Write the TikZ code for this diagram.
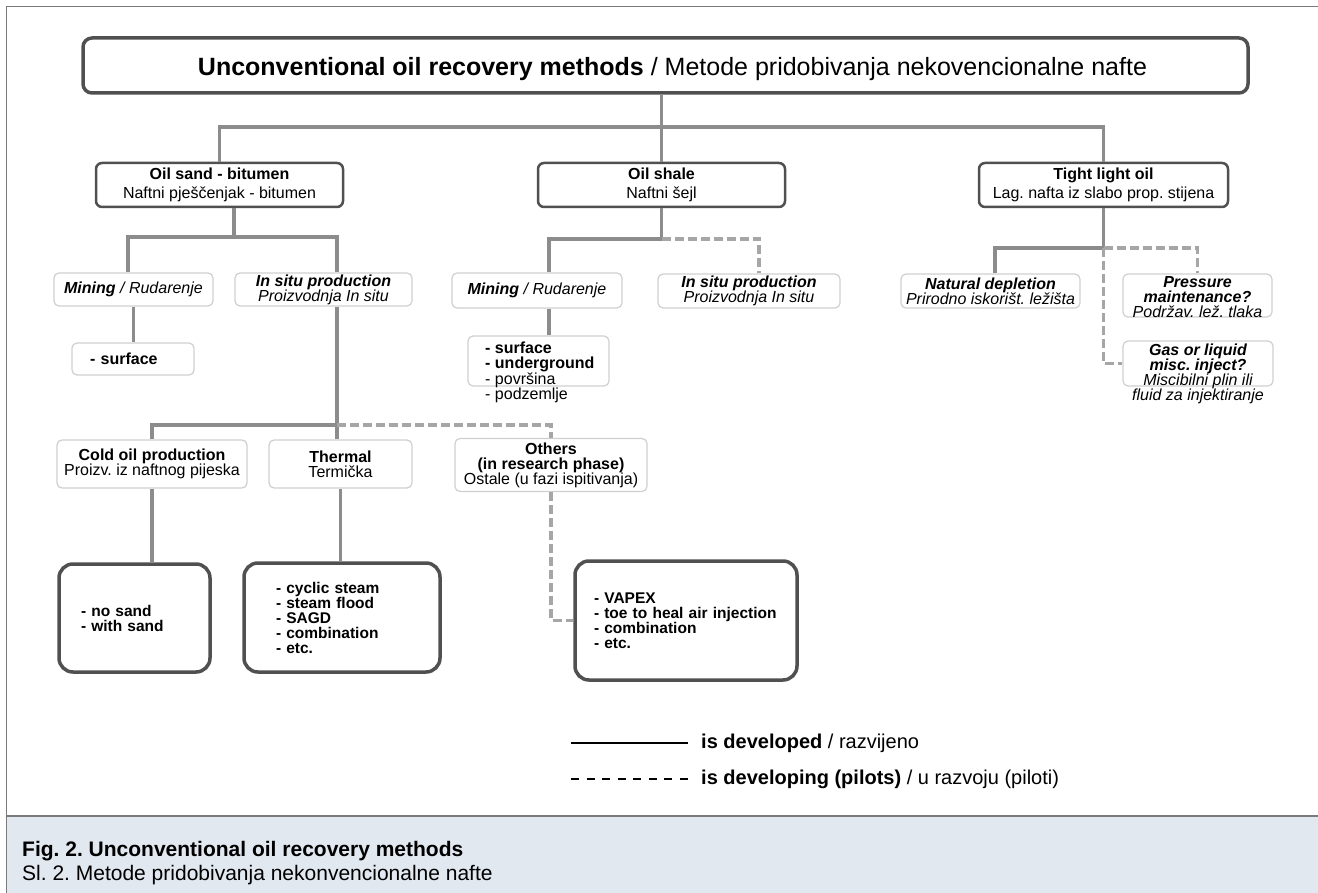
\documentclass[tikz,border=0pt]{standalone}
\usepackage{fontspec}
\setmainfont{Liberation Sans}
\frenchspacing
\usetikzlibrary{calc}
\definecolor{boxdark}{HTML}{505050}
\definecolor{boxlight}{HTML}{CFCFCF}
\definecolor{linegray}{HTML}{8C8C8C}
\definecolor{dashgray}{HTML}{A6A6A6}
\definecolor{capfill}{HTML}{E1E8F0}
\definecolor{framegray}{HTML}{7A7A7A}
\newcommand{\grpfont}{\fontsize{16}{19}\selectfont}
\newcommand{\subfont}{\fontsize{16}{15}\selectfont}
\newcommand{\lstfont}{\fontsize{15.5}{15}\selectfont}
\newcommand{\legfont}{\fontsize{20}{24}\selectfont}
\newcommand{\capfont}{\fontsize{21}{24}\selectfont}
\tikzset{
  mainbox/.style={draw=boxdark, line width=3.5pt, rounded corners=9pt, align=center, inner sep=0pt},
  groupbox/.style={draw=boxdark, line width=2.5pt, rounded corners=6pt, align=center, inner sep=0pt,
    minimum height=44pt, font=\grpfont},
  methodbox/.style={draw=boxlight, line width=1.2pt, rounded corners=5pt, align=center, inner sep=0pt,
    font=\subfont\itshape},
  listbox/.style={draw=boxdark, line width=3.5pt, rounded corners=14pt, align=left, inner ysep=0pt,
    font=\lstfont\bfseries},
  conn/.style={draw=linegray, line width=3.5pt},
  pilot/.style={draw=dashgray, line width=3.5pt, dash pattern=on 9pt off 4pt},
}

\begin{document}
\begin{tikzpicture}[x=1pt,y=-1pt]
	\useasboundingbox (0,0) rectangle (1318,893);
	% frame and caption band
	\fill[capfill] (6,816) rectangle (1318,893);
	\draw[framegray, line width=1pt] (6,893) -- (6,7) -- (1318,7);
	\draw[framegray, line width=2pt] (6,816) -- (1318,816);
	\node[anchor=base west, inner sep=0pt, font=\capfont\bfseries] (figen) at (22,856) {Fig. 2. Unconventional oil recovery methods};
	\node[anchor=base west, inner sep=0pt, font=\capfont] (fighr) at (22,880) {Sl. 2. Metode pridobivanja nekonvencionalne nafte};

	% top
	\node[mainbox, minimum width=1165pt, minimum height=55pt, text height=23pt, text depth=2pt,
		font=\fontsize{25}{28}\selectfont] (title) at (665.5,65.5)
		{\hspace*{14pt}\textbf{Unconventional oil recovery methods} / Metode pridobivanja nekovencionalne nafte};

	% resources
	\node[groupbox, minimum width=247pt] (sand) at (219.5,185) {\textbf{Oil sand - bitumen}\\Naftni pješčenjak - bitumen};
	\node[groupbox, minimum width=247pt] (shale) at (661.5,185) {\textbf{Oil shale}\\Naftni šejl};
	\node[groupbox, minimum width=249pt] (tight) at (1103.5,185) {\textbf{Tight light oil}\\Lag. nafta iz slabo prop. stijena};

	% oil sand
	\node[methodbox, minimum width=159pt, minimum height=33pt] (mineS) at (133.5,289.5) {\textbf{Mining} / Rudarenje};
	\node[methodbox, minimum width=177pt, minimum height=33pt] (insituS) at (323.5,289.5) {\textbf{In situ production}\\Proizvodnja In situ};
	\node[methodbox, minimum width=122pt, minimum height=32pt, text width=86pt, inner xsep=18pt, align=left, font=\subfont\bfseries] (surfS) at (133,359) {- surface};
	\node[methodbox, minimum width=190pt, minimum height=48pt, font=\subfont] (cold) at (152,464) {\textbf{Cold oil production}\\Proizv. iz naftnog pijeska};
	\node[methodbox, minimum width=143pt, minimum height=48pt, font=\subfont] (thermal) at (340.5,464) {\textbf{Thermal}\\Termička};
	\node[methodbox, minimum width=192pt, minimum height=53pt, font=\subfont] (others) at (551,465) {\textbf{Others}\\\textbf{(in research phase)}\\Ostale (u fazi ispitivanja)};
	\node[listbox, minimum width=151pt, minimum height=108pt, text width=107pt, inner xsep=22pt] (nosand) at (134.5,618) {- no sand\\- with sand};
	\node[listbox, minimum width=196pt, minimum height=109pt, text width=132pt, inner xsep=32pt] (thermlist) at (342,617.5) {- cyclic steam\\- steam flood\\- SAGD\\- combination\\- etc.};
	\node[listbox, minimum width=222pt, minimum height=119pt, text width=184pt, inner xsep=19pt] (othlist) at (686,620.5) {- VAPEX\\- toe to heal air injection\\- combination\\- etc.};

	% oil shale
	\node[methodbox, minimum width=170pt, minimum height=35pt] (mineO) at (537,290.5) {\textbf{Mining} / Rudarenje};
	\node[methodbox, minimum width=182pt, minimum height=34pt] (insituO) at (749,291) {\textbf{In situ production}\\Proizvodnja In situ};
	\node[methodbox, minimum width=141pt, minimum height=50pt] (listO) at (538.5,361) {};
	\node[anchor=north west, inner sep=0pt, align=left, font=\subfont] (listOtext) at (485,341.5)
		{\textbf{- surface}\\\textbf{- underground}\\- površina\\- podzemlje};

	% tight oil
	\node[methodbox, minimum width=179pt, minimum height=34pt] (natural) at (990.5,291) {\textbf{Natural depletion}\\Prirodno iskorišt. ležišta};
	\node[methodbox, minimum width=149pt, minimum height=43pt] (press) at (1197.5,295.5) {};
	\node[inner sep=0pt, align=center, font=\subfont\itshape] (presstext) at (1197.5,297.5)
		{\textbf{Pressure}\\\textbf{maintenance?}\\Podržav. lež. tlaka};
	\node[methodbox, minimum width=150pt, minimum height=45pt] (gas) at (1198,363.5) {};
	\node[inner sep=0pt, align=center, font=\subfont\itshape] (gastext) at (1198,373.5)
		{\textbf{Gas or liquid}\\\textbf{misc. inject?}\\Miscibilni plin ili\\fluid za injektiranje};

	% links
	\coordinate (bus) at (661.5,127);
	\coordinate (sandbus) at (234,237);
	\coordinate (situbus) at (337,425);
	\coordinate (shalebus) at (661.5,239);
	\coordinate (tightbus) at (1103.5,248);
	\draw[conn] (title.south -| shale.north) -- (shale.north);
	\draw[conn] (sand.north) |- (bus) -| (tight.north);

	\draw[conn] (sand.south -| sandbus) -- (sandbus);
	\draw[conn] ([xshift=-5.5pt]mineS.north) |- (sandbus) -| ([xshift=13.5pt]insituS.north);
	\draw[conn] (mineS.south) -- (mineS.south |- surfS.north);
	\draw[conn] ([xshift=13.5pt]insituS.south) -- (situbus |- thermal.north);
	\draw[conn] (cold.north) |- (situbus);
	\draw[pilot] (situbus) -| (others.north);
	\draw[conn] (cold.south) -- (cold.south |- nosand.north);
	\draw[conn] (thermal.south) -- (thermal.south |- thermlist.north);
	\draw[pilot] (others.south) |- (othlist.west);

	\draw[conn] (shale.south) -- (shalebus);
	\draw[conn] ([xshift=12pt]mineO.north) |- (shalebus);
	\draw[pilot] (shalebus) -| ([xshift=10pt]insituO.north);
	\draw[conn] ([xshift=12pt]mineO.south) -- ([xshift=12pt]mineO.south |- listO.north);

	\draw[conn] (tight.south) -- (tightbus);
	\draw[conn] ([xshift=4.5pt]natural.north) |- (tightbus);
	\draw[pilot] (tightbus) -| (press.north);
	\draw[pilot] (tightbus) |- (gas.west);

	% legend
	\node[anchor=west, inner sep=0pt, font=\legfont] (legdone) at (701,743) {\textbf{is developed} / razvijeno};
	\node[anchor=west, inner sep=0pt, font=\legfont] (legpilot) at (701,779) {\textbf{is developing (pilots)} / u razvoju (piloti)};
	\draw[black, line width=2pt] ([xshift=-130pt]legdone.west) -- ++(117,0);
	\draw[black, line width=2pt, dash pattern=on 8pt off 7.57pt] ([xshift=-130pt]legpilot.west) -- ++(117,0);
\end{tikzpicture}
\end{document}
